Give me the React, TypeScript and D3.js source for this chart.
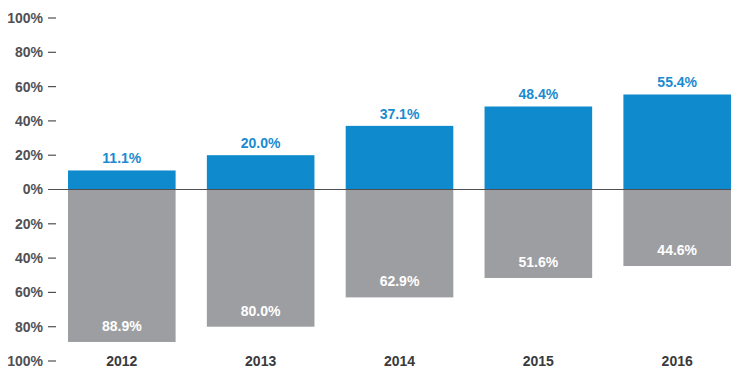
import React from "react";
import * as d3 from "d3";

const years = ["2012", "2013", "2014", "2015", "2016"];
const positiveValues = [11.1, 20.0, 37.1, 48.4, 55.4];
const negativeValues = [88.9, 80.0, 62.9, 51.6, 44.6];
const tickValues = [100, 80, 60, 40, 20, 0, -20, -40, -60, -80, -100];

const W = 744;
const H = 375;

export default function App() {
  const y = d3.scaleLinear().domain([100, -100]).range([18, 361]);
  const x = d3.scaleBand().domain(years).range([68, 731]).paddingInner(0.225).paddingOuter(0);
  const blue = "#0f8bcd";
  const grey = "#9d9ea2";
  const font = "Arial, 'Liberation Sans', Helvetica, sans-serif";
  return (
    <svg width={W} height={H} style={{ position: "absolute", left: 0, top: 0 }} fontFamily={font}>
      {tickValues.map((t) => (
        <g key={t}>
          <text x={43} y={y(t)} dy="0.35em" textAnchor="end" fontSize={14} fontWeight="bold" fill="#505054">
            {Math.abs(t)}%
          </text>
          {t !== 0 && <line x1={48} x2={56} y1={y(t)} y2={y(t)} stroke="#505054" strokeWidth={1.2} />}
        </g>
      ))}
      {years.map((yr, i) => (
        <g key={yr}>
          <rect x={x(yr)} y={y(positiveValues[i])} width={x.bandwidth()} height={y(0) - y(positiveValues[i])} fill={blue} />
          <rect x={x(yr)} y={y(0)} width={x.bandwidth()} height={y(-negativeValues[i]) - y(0)} fill={grey} />
          <text x={x(yr)! + x.bandwidth() / 2} y={y(positiveValues[i]) - 7} textAnchor="middle" fontSize={14} fontWeight="bold" fill="#1a8bd0">
            {positiveValues[i].toFixed(1)}%
          </text>
          <text x={x(yr)! + x.bandwidth() / 2} y={y(-negativeValues[i]) - 11} textAnchor="middle" fontSize={14} fontWeight="bold" fill="#ffffff">
            {negativeValues[i].toFixed(1)}%
          </text>
          <text x={x(yr)! + x.bandwidth() / 2} y={y(-100)} dy="0.35em" textAnchor="middle" fontSize={14} fontWeight="bold" fill="#3a3a3c">
            {yr}
          </text>
        </g>
      ))}
      <line x1={48} x2={731} y1={y(0)} y2={y(0)} stroke="#505054" strokeWidth={1.2} />
    </svg>
  );
}
